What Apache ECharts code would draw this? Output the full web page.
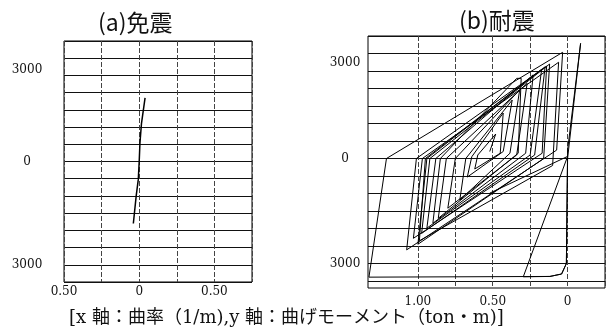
<!DOCTYPE html>
<html>
<head>
<meta charset="utf-8">
<script src="https://cdn.jsdelivr.net/npm/echarts@6/dist/echarts.min.js"></script>
<style>
  html, body { margin: 0; padding: 0; background: #fff; }
  #chart { width: 614px; height: 333px; }
</style>
</head>
<body>
<div id="chart"></div>
<script>
// (a) 免震: curvature (1/m) and bending moment (ton·m)
const isoCurvature = [-0.039, -0.02, -0.006, 0.0, 0.005, 0.015, 0.039];
const isoMoment = [-1800, -1000, -520, 0, 540, 1100, 1850];

// (b) 耐震: hysteresis path, read point by point
const resCurvature = [
  -0.52, 0.0, -0.296, -0.118, -0.04, -0.008, 0.0, 0.087, 0.0, -0.008,
  -0.04, -0.118, -1.327, -1.21, -0.033, -0.073, -1.075, -1.01, -0.14, -0.17,
  -1.03, -0.97, -0.06, -0.1, -0.99, -0.95, -0.15, -0.22, -0.975, -0.92,
  -0.12, -0.16, -1.0, -0.94, -0.173, -0.25, -0.94, -0.88, -0.23, -0.28,
  -0.9, -0.85, -0.34, -0.31, -0.33, -0.864, -0.81, -0.27, -0.34, -0.8,
  -0.75, -0.32, -0.385, -0.72, -0.68, -0.37, -0.43, -0.67, -0.64, -0.43,
  -0.45, -0.62, -0.6, -0.48, -0.52
];
const resMoment = [
  -990, 60, -3380, -3370, -3300, -3000, 0, 3290, 240, -3000,
  -3300, -3370, -3390, 0, 3034, 240, -2610, 0, 2640, 150,
  -2280, 0, 2750, -200, -2350, 0, 2620, 100, -2140, 0,
  2700, 0, -2450, 0, 2550, 100, -1990, 0, 2390, 150,
  -1850, 0, 2290, 2290, 150, -1710, 0, 2150, 100, -1420,
  0, 1960, 150, -1190, 0, 1670, 200, -530, 50, 1300,
  150, -300, 100, 700, 200
];

// axis ticks and labels
const isoXTicks = [-0.5, -0.25, 0, 0.25, 0.5, 0.75];
const isoXLabels = [-0.5, 0, 0.5];
const resXTicks = [-1, -0.75, -0.5, -0.25, 0, 0.25];
const resXLabels = [-1, -0.5, 0];
const yTicks = [-3500, -3000, -2500, -2000, -1500, -1000, -500, 0, 500, 1000, 1500, 2000, 2500, 3000, 3500];
const yLabels = [-3000, 0, 3000];

const titles = ['(a)免震', '(b)耐震'];
const caption = '[x 軸：曲率（1/m),y 軸：曲げモーメント（ton・m)]';

const zip = (xs, ys) => xs.map((x, i) => [x, ys[i]]);

const serif = '"DejaVu Serif", serif';
const labelFont = { fontFamily: serif, fontSize: 12, color: '#111' };
const xFmt = v => (v === 0 ? '0' : Math.abs(v).toFixed(2));
// the printed top label sits a little below its grid line
const yFmt = v => (v > 0 ? '{up|' + v + '}' : String(Math.abs(v)));
const upRich = pad => ({ up: { fontFamily: serif, fontSize: 12, color: '#111', padding: [pad, 0, 0, 0] } });

const vSplit = { show: true, lineStyle: { color: '#444', width: 1, type: [5, 2] } };
const hSplit = { show: true, lineStyle: { color: '#111', width: 1 } };
const titleStyle = { fontFamily: '"Noto Sans CJK JP"', fontSize: 23, fontWeight: 'normal', color: '#111' };

const chart = echarts.init(document.getElementById('chart'));
chart.setOption({
  animation: false,
  backgroundColor: '#fff',
  title: [
    { text: titles[0], left: 93, top: 6, textStyle: titleStyle },
    { text: titles[1], left: 454, top: 4, textStyle: titleStyle }
  ],
  graphic: [{
    type: 'text', left: 69, top: 309,
    style: { text: caption, fontFamily: '"DejaVu Serif", "Noto Sans CJK JP"', fontSize: 18, fill: '#111' }
  }],
  grid: [
    { left: 64, right: 362, top: 41, bottom: 51, show: true, borderColor: '#000', borderWidth: 1 },
    { left: 368, right: 9, top: 36, bottom: 45, show: true, borderColor: '#000', borderWidth: 1 }
  ],
  xAxis: [
    {
      type: 'value', gridIndex: 0, min: -0.5, max: 0.75,
      axisLine: { show: false },
      axisTick: { show: false, customValues: isoXTicks },
      axisLabel: { customValues: isoXLabels, formatter: xFmt, margin: 4, ...labelFont },
      splitLine: vSplit
    },
    {
      type: 'value', gridIndex: 1, min: -1.3333, max: 0.25,
      axisLine: { show: false },
      axisTick: { show: false, customValues: resXTicks },
      axisLabel: { customValues: resXLabels, formatter: xFmt, margin: 8, ...labelFont },
      splitLine: vSplit
    }
  ],
  yAxis: [
    {
      type: 'value', gridIndex: 0, min: -3500, max: 3500,
      axisLine: { show: false },
      axisTick: { show: true, customValues: yTicks, length: 10, lineStyle: { color: '#111' } },
      axisLabel: { customValues: yLabels, formatter: yFmt, rich: upRich(24), align: 'center', margin: 37, ...labelFont },
      splitLine: hSplit
    },
    {
      type: 'value', gridIndex: 1, min: -3700, max: 3500,
      axisLine: { show: false },
      axisTick: { show: false, customValues: yTicks },
      axisLabel: { customValues: yLabels, formatter: yFmt, rich: upRich(18), align: 'center', margin: 23, ...labelFont },
      splitLine: hSplit
    }
  ],
  series: [
    {
      type: 'line', xAxisIndex: 0, yAxisIndex: 0,
      data: zip(isoCurvature, isoMoment),
      showSymbol: false, lineStyle: { color: '#000', width: 1.5 }
    },
    {
      type: 'line', xAxisIndex: 1, yAxisIndex: 1,
      data: zip(resCurvature, resMoment),
      showSymbol: false, lineStyle: { color: '#000', width: 1 }
    }
  ]
});
</script>
</body>
</html>
